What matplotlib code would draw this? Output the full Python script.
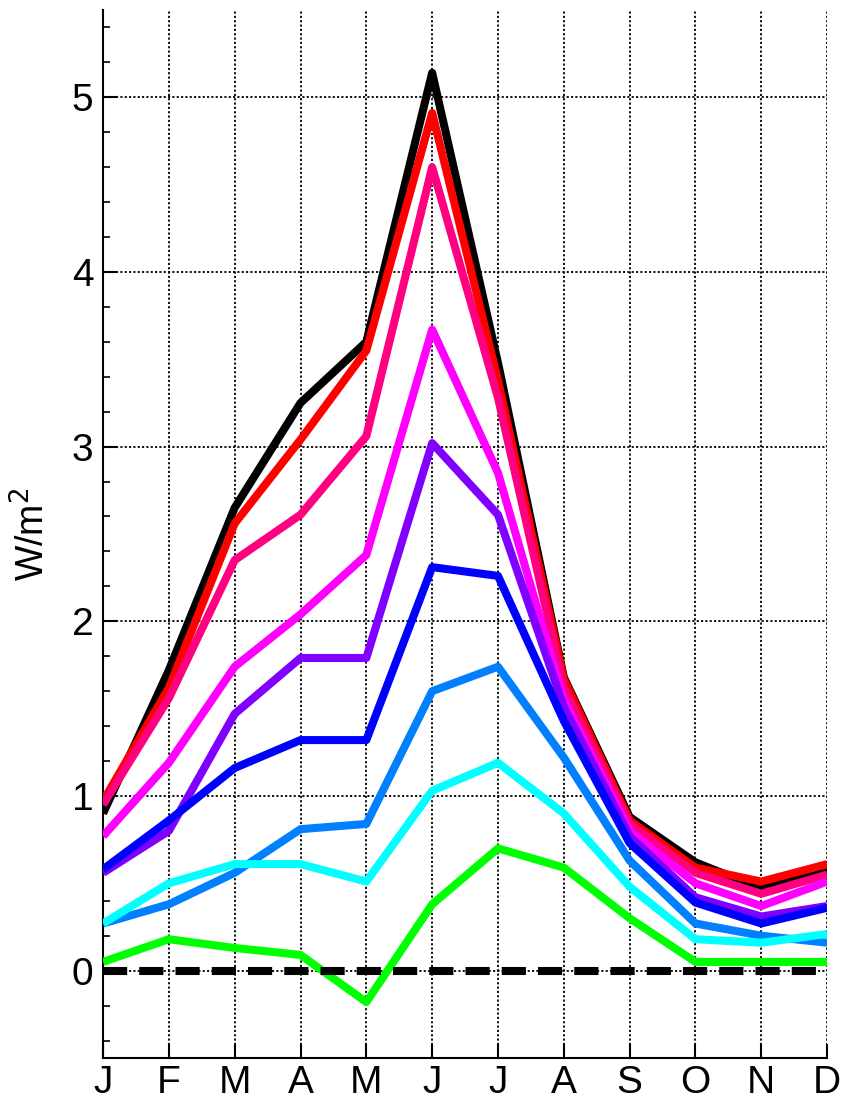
import numpy as np
import matplotlib
matplotlib.use('Agg')
import matplotlib.pyplot as plt
from matplotlib.ticker import MultipleLocator

plt.rcParams['font.family'] = ['Liberation Sans', 'DejaVu Sans']

months = ['J', 'F', 'M', 'A', 'M', 'J', 'J', 'A', 'S', 'O', 'N', 'D']

s_black = [0.90, 1.72, 2.65, 3.25, 3.60, 5.14, 3.48, 1.68, 0.88, 0.62, 0.47, 0.58]
s_red = [0.97, 1.62, 2.56, 3.04, 3.55, 4.91, 3.38, 1.67, 0.86, 0.59, 0.51, 0.61]
s_pink = [0.95, 1.56, 2.35, 2.61, 3.06, 4.60, 3.28, 1.62, 0.84, 0.56, 0.44, 0.55]
s_magenta = [0.77, 1.19, 1.74, 2.04, 2.38, 3.67, 2.85, 1.55, 0.80, 0.50, 0.37, 0.51]
s_purple = [0.56, 0.80, 1.47, 1.79, 1.79, 3.02, 2.61, 1.51, 0.77, 0.42, 0.31, 0.37]
s_blue = [0.58, 0.86, 1.16, 1.32, 1.32, 2.31, 2.26, 1.43, 0.73, 0.39, 0.27, 0.36]
s_dodger = [0.27, 0.38, 0.56, 0.81, 0.84, 1.60, 1.74, 1.22, 0.63, 0.27, 0.20, 0.16]
s_cyan = [0.27, 0.50, 0.61, 0.61, 0.51, 1.03, 1.19, 0.90, 0.48, 0.18, 0.16, 0.21]
s_green = [0.05, 0.18, 0.13, 0.09, -0.18, 0.38, 0.70, 0.59, 0.30, 0.05, 0.05, 0.05]

series = [s_black, s_red, s_pink, s_magenta, s_purple, s_blue, s_dodger, s_cyan, s_green]
colors = ['#000000', '#ff0000', '#ff0080', '#ff00ff', '#8000ff', '#0000ff', '#0080ff', '#00ffff', '#00ff00']

fig = plt.figure(figsize=(8.41, 11.03), dpi=100)
ax = fig.add_axes([0.1225, 0.0408, 0.861, 0.9502])

x = np.arange(len(months))
for s, c in zip(series, colors):
    ax.plot(x, s, color=c, lw=5.8, solid_joinstyle='round', solid_capstyle='butt', zorder=3)

ax.axhline(0, color='black', lw=5.8, dashes=(3, 1.5), zorder=4)

ax.set_xlim(0, 11)
ax.set_ylim(-0.5, 5.5)
ax.set_xticks(x)
ax.set_xticklabels(months)
ax.set_yticks([0, 1, 2, 3, 4, 5])
ax.yaxis.set_minor_locator(MultipleLocator(0.2))
ax.grid(True, which='major', color='black', linestyle=(0, (1.2, 1.2)), lw=1.3)

for side in ['top', 'right']:
    ax.spines[side].set_visible(False)
ax.spines['left'].set_linewidth(1.5)
ax.spines['bottom'].set_linewidth(1.5)

ax.tick_params(axis='both', which='major', direction='in', length=10, width=1.5, labelsize=28, pad=7)
ax.tick_params(axis='y', which='minor', direction='in', length=5, width=1.2)
ax.tick_params(axis='x', pad=5)
ax.set_ylabel('W/m$^2$', fontsize=27, labelpad=14)

fig.savefig('out.png', dpi=100)
